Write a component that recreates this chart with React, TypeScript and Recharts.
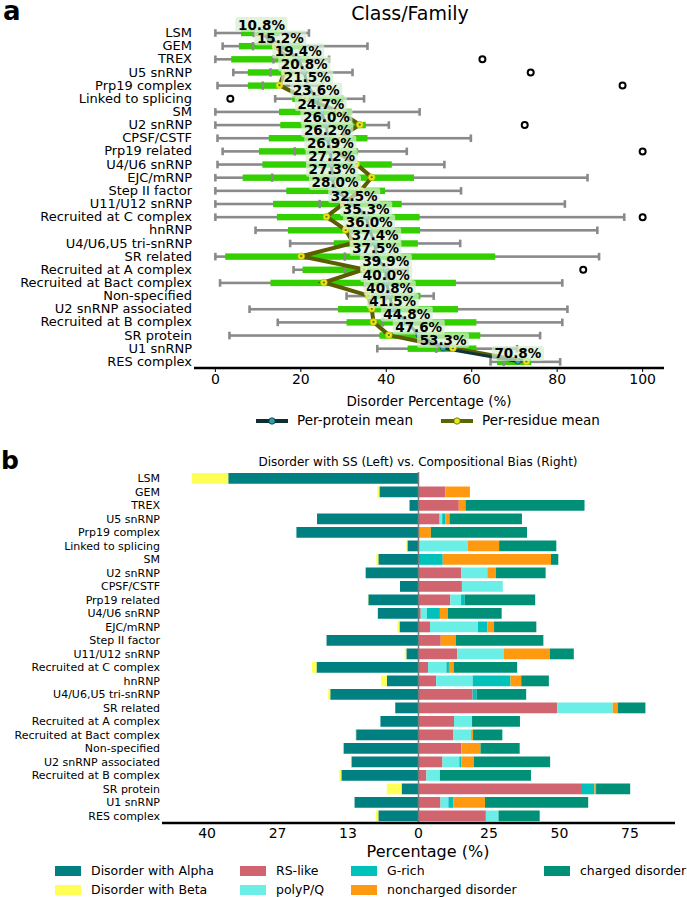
import React from 'react';
import { ComposedChart, Bar, Line, XAxis, YAxis, ReferenceLine } from 'recharts';

const categories = ['LSM','GEM','TREX','U5 snRNP','Prp19 complex','Linked to splicing','SM','U2 snRNP','CPSF/CSTF','Prp19 related','U4/U6 snRNP','EJC/mRNP','Step II factor','U11/U12 snRNP','Recruited at C complex','hnRNP','U4/U6,U5 tri-snRNP','SR related','Recruited at A complex','Recruited at Bact complex','Non-specified','U2 snRNP associated','Recruited at B complex','SR protein','U1 snRNP','RES complex'];

// Panel a: box plot statistics (Disorder %)
const boxMin = [0, 1.7, 0, 4.2, 0.5, 14, 0, 0, 0.5, 1.7, 0.5, 0, 0, 0, 0, 9.4, 17.5, 0, 18.3, 1.1, 30.7, 8.0, 14.6, 3.3, 37.9, 64.4];
const boxQ1 = [6.0, 5.5, 3.7, 7.6, 7.6, 18, 14.9, 15.2, 12.5, 10.2, 11.0, 6.4, 16.6, 13.5, 14.4, 17.0, 27.7, 2.3, 20.4, 12.9, 36, 28.7, 30.7, 38.4, 45.0, 65.9];
const boxMed = [9, 8.8, 13.6, 12.9, 11.1, 24, 22, 24, 25, 18.6, 25, 13.3, 27, 24.4, 26.8, 32, 36, 30.3, 30.3, 35, 40, 40, 39.2, 49, 51.7, 67.5];
const boxQ3 = [15, 20, 22, 18, 14.6, 30, 31.9, 35.2, 35.6, 33.4, 41.3, 46.5, 39.7, 43.6, 47.8, 47.9, 47.4, 65.5, 40, 56.3, 48, 56.8, 61.1, 62.0, 61.1, 73.9];
const boxMax = [21.9, 35.6, 26.6, 32.1, 25, 34.8, 47.8, 40.6, 59.8, 44.8, 53.6, 87.1, 57.5, 81.8, 95.7, 89.4, 57.3, 89.8, 45, 81.2, 51.1, 82.4, 81.2, 76.0, 70.6, 80.7];
const outliers: number[][] = [[], [], [62.5], [73.8], [95.3], [3.5], [], [72.4], [], [100], [], [], [], [], [100], [], [], [], [86.1], [], [], [], [], [], [], []];
const perProteinMean = [10.8, 15.2, 19.4, 20.8, 21.5, 23.6, 24.7, 26.0, 26.2, 26.9, 27.2, 27.3, 28.0, 32.5, 35.3, 36.0, 37.4, 37.5, 39.9, 40.0, 40.8, 41.5, 44.8, 47.6, 53.3, 70.8];
const perResidueMean = [11, 14, 17, 16.2, 15.0, 21, 29, 33.8, 29, 28, 33, 36.6, 34, 30, 26.0, 30.5, 32.3, 20.1, 34.8, 25.4, 35.8, 36.6, 37.0, 40.6, 55.6, 72.8];
const ticksA = [0, 20, 40, 60, 80, 100];

// Panel b: left (disorder with SS) and right (compositional bias), %
const alphaDis = [36.0, 7.4, 1.7, 19.2, 23.1, 2.1, 7.6, 10.0, 3.5, 9.5, 7.7, 3.6, 17.4, 2.3, 19.3, 6.0, 16.7, 4.4, 7.2, 11.8, 14.2, 12.7, 14.6, 3.2, 12.1, 7.6];
const betaDis = [6.9, 0.4, 0, 0, 0, 0.2, 0.4, 0, 0, 0.1, 0.1, 0.4, 0, 0.3, 0.9, 1.1, 0.4, 0, 0, 0.2, 0.1, 0.1, 0.4, 2.8, 0, 0.5];
const rsLike = [0, 9.55, 14.3, 7.5, 0, 0, 0, 15.2, 15.4, 11.3, 0.8, 4.1, 7.9, 13.8, 3.4, 6.25, 19.2, 49.2, 12.6, 12.4, 15.2, 8.5, 2.8, 58.0, 7.8, 23.9];
const polyPQ = [0, 0, 0, 0.9, 0, 17.5, 0, 9.2, 14.5, 3.8, 2.2, 17.0, 0, 16.4, 6.5, 13.0, 0, 19.7, 6.4, 6.25, 0, 6.0, 4.8, 0, 2.8, 4.5];
const gRich = [0, 0, 0, 1.2, 0, 0, 8.6, 0, 0, 1.3, 4.6, 3.3, 0, 0, 0.9, 13.4, 1.4, 0, 0, 0, 0, 0.7, 0, 4.4, 1.8, 0];
const nonCharged = [0, 8.7, 2.4, 1.4, 4.4, 11.1, 38.4, 3.1, 0, 0, 2.8, 2.4, 5.3, 16.4, 1.7, 3.8, 0, 1.8, 0, 0.7, 6.8, 4.4, 0, 0.6, 11.2, 0];
const charged = [0, 0, 42.2, 25.7, 34.1, 20.3, 2.6, 17.6, 0, 25.0, 19.1, 15.0, 31.1, 8.5, 22.5, 9.8, 17.6, 9.8, 17.0, 10.4, 13.9, 27.1, 32.3, 12.1, 36.6, 14.6];
const ticksB = [-75, -50, -25, 0, 25, 50, 75];
const LEFT_SCALE = 75 / 40; // left half drawn on a stretched scale (tick labels 13, 27, 40)

const FONT = '"DejaVu Sans", Verdana, sans-serif';

const rowsA = categories.map((name, i) => ({
  name,
  range: [boxMin[i], boxMax[i]],
  min: boxMin[i], q1: boxQ1[i], med: boxMed[i], q3: boxQ3[i], max: boxMax[i],
  outliers: outliers[i],
  ppm: perProteinMean[i],
  prm: perResidueMean[i],
}));

const rowsB = categories.map((name, i) => ({
  name,
  alpha: -alphaDis[i] * LEFT_SCALE,
  beta: -betaDis[i] * LEFT_SCALE,
  rs: rsLike[i], pq: polyPQ[i], g: gRich[i], nc: nonCharged[i], ch: charged[i],
}));

const BoxShape = (props: any) => {
  const { x, y, width, height, payload } = props;
  const { min, max, q1, q3, med } = payload;
  const px = (v: number) => x + ((v - min) / (max - min)) * width;
  const cy = y + height / 2;
  const gray = '#8a8a8a';
  return (
    <g>
      <rect x={px(min)} y={cy - 1.3} width={px(max) - px(min)} height={2.6} fill={gray} />
      <rect x={px(min) - 1.3} y={cy - 3.8} width={2.6} height={7.6} fill={gray} />
      <rect x={px(max) - 1.3} y={cy - 3.8} width={2.6} height={7.6} fill={gray} />
      <rect x={px(q1)} y={cy - 3.2} width={px(q3) - px(q1)} height={6.4} fill="#33d000" />
      <rect x={px(med) - 1.3} y={cy - 4.2} width={2.6} height={8.4} fill={gray} />
      {payload.outliers.map((o: number, k: number) => (
        <circle key={k} cx={px(o)} cy={cy} r={3} fill="#fff" stroke="#000" strokeWidth={2} />
      ))}
    </g>
  );
};

const ResidueDot = (props: any) => {
  const { cx, cy, index } = props;
  return (
    <g key={`rd-${index}`}>
      <circle cx={cx} cy={cy} r={3.3} fill="#e6e61a" stroke="#c8c800" strokeWidth={0.8} />
      <circle cx={cx} cy={cy} r={1.1} fill="#6b6b00" />
    </g>
  );
};

const ProteinDot = (props: any) => {
  const { cx, cy, index } = props;
  return <circle key={`pd-${index}`} cx={cx} cy={cy} r={2.8} fill="#2e9fb3" stroke="#0d3538" strokeWidth={0.6} />;
};

const LabelDot = (props: any) => {
  const { cx, cy, index, value } = props;
  const w = 52;
  const h = 15;
  const ty = cy - 8;
  return (
    <g key={`lb-${index}`}>
      <rect x={cx - w / 2} y={ty - h / 2} width={w} height={h} rx={2} fill="#d6efd0" fillOpacity={0.72} />
      <text x={cx} y={ty} textAnchor="middle" dominantBaseline="central" fontFamily={FONT} fontWeight="bold" fontSize={13.5} fill="#000">
        {`${Number(value).toFixed(1)}%`}
      </text>
    </g>
  );
};

const makeCatTick = (size: number) => (p: any) => (
  <text x={p.x} y={p.y} textAnchor="end" dominantBaseline="central" fontFamily={FONT} fontSize={size} fill="#000">
    {p.payload.value}
  </text>
);
const CatTickA = makeCatTick(13);
const CatTickB = makeCatTick(11);

const Txt = ({ x, y, size, bold, anchor = 'middle', lh = 1.15, children }: any) => {
  const tx = anchor === 'middle' ? '-50%' : anchor === 'end' ? '-100%' : '0';
  return (
    <div style={{ position: 'absolute', left: x, top: y, transform: `translate(${tx}, -50%)`, fontSize: size, fontWeight: bold ? 'bold' : 'normal', lineHeight: lh, whiteSpace: 'nowrap', fontFamily: FONT, color: '#000' }}>
      {children}
    </div>
  );
};

const LegendLine = ({ x, y, color, dotFill, dotStroke, label }: any) => (
  <>
    <svg style={{ position: 'absolute', left: x, top: y - 6 }} width={32} height={12}>
      <line x1={0} y1={6} x2={32} y2={6} stroke={color} strokeWidth={4} />
      <circle cx={16} cy={6} r={3.2} fill={dotFill} stroke={dotStroke} strokeWidth={0.8} />
    </svg>
    <Txt x={x + 41} y={y} size={13.5} anchor="start">{label}</Txt>
  </>
);

const LegendPatch = ({ x, y, color, label }: any) => (
  <>
    <div style={{ position: 'absolute', left: x, top: y - 5, width: 26, height: 10, background: color }} />
    <Txt x={x + 36} y={y} size={12.5} anchor="start">{label}</Txt>
  </>
);

const fmtB = (v: number) => (v < 0 ? String(Math.round((-v) / LEFT_SCALE)) : String(v));

export default function App() {
  return (
    <div style={{ position: 'absolute', left: 0, top: 0, width: 687, height: 897, background: '#fff', overflow: 'hidden', fontFamily: FONT }}>
      {/* Panel a */}
      <div style={{ position: 'absolute', left: 0, top: 0 }}>
        <ComposedChart width={687} height={400} layout="vertical" data={rowsA} margin={{ top: 26, right: 23, left: 0, bottom: 0 }}>
          <XAxis type="number" domain={[-5, 105]} ticks={ticksA} allowDataOverflow height={32}
            axisLine={{ stroke: '#000', strokeWidth: 2.5 }} tickLine={{ stroke: '#000' }} tickSize={4} tickMargin={2}
            tick={{ fontSize: 14, fill: '#000', fontFamily: FONT }} />
          <YAxis type="category" dataKey="name" width={194} interval={0} axisLine={false} tickLine={false} tickSize={0} tickMargin={2}
            tick={CatTickA} />
          <Bar dataKey="range" barSize={12} shape={BoxShape} isAnimationActive={false} />
          <Line dataKey="prm" stroke="#5c5c00" strokeWidth={4} dot={ResidueDot} activeDot={false} isAnimationActive={false} />
          <Line dataKey="ppm" stroke="#0d3538" strokeWidth={3} dot={ProteinDot} activeDot={false} isAnimationActive={false} />
          <Line dataKey="ppm" stroke="none" dot={LabelDot} activeDot={false} isAnimationActive={false} />
        </ComposedChart>
      </div>
      <Txt x={3} y={11} size={26} bold anchor="start" lh={0.8}>a</Txt>
      <Txt x={410} y={14} size={19}>Class/Family</Txt>
      <Txt x={429} y={402} size={13.5}>Disorder Percentage (%)</Txt>
      <LegendLine x={256} y={421} color="#0b2f33" dotFill="#2e9fb3" dotStroke="#0b2f33" label="Per-protein mean" />
      <LegendLine x={441} y={421} color="#5b6600" dotFill="#e6e61a" dotStroke="#5b6600" label="Per-residue mean" />

      {/* Panel b */}
      <div style={{ position: 'absolute', left: 0, top: 440 }}>
        <ComposedChart width={687} height={407} layout="vertical" data={rowsB} stackOffset="sign" barCategoryGap={0}
          margin={{ top: 32, right: 12, left: 0, bottom: 0 }}>
          <XAxis type="number" domain={[-91, 91]} ticks={ticksB} allowDataOverflow height={24} tickFormatter={fmtB}
            axisLine={{ stroke: '#000', strokeWidth: 2.5 }} tickLine={false} tickSize={3} tickMargin={2}
            tick={{ fontSize: 14, fill: '#000', fontFamily: FONT }} />
          <YAxis type="category" dataKey="name" width={162} interval={0} axisLine={false} tickLine={false} tickSize={0} tickMargin={2}
            tick={CatTickB} />
          <Bar dataKey="alpha" stackId="s" barSize={10.8} fill="#008080" isAnimationActive={false} />
          <Bar dataKey="beta" stackId="s" barSize={10.8} fill="#ffff55" isAnimationActive={false} />
          <Bar dataKey="rs" stackId="s" barSize={10.8} fill="#d0646f" isAnimationActive={false} />
          <Bar dataKey="pq" stackId="s" barSize={10.8} fill="#6aeee5" isAnimationActive={false} />
          <Bar dataKey="g" stackId="s" barSize={10.8} fill="#00c2ba" isAnimationActive={false} />
          <Bar dataKey="nc" stackId="s" barSize={10.8} fill="#ff9a10" isAnimationActive={false} />
          <Bar dataKey="ch" stackId="s" barSize={10.8} fill="#009077" isAnimationActive={false} />
          <ReferenceLine x={0} stroke="#7a7a7a" strokeWidth={1.5} />
        </ComposedChart>
      </div>
      <Txt x={1} y={461} size={25} bold anchor="start">b</Txt>
      <Txt x={418} y={463} size={12}>Disorder with SS (Left) vs. Compositional Bias (Right)</Txt>
      <Txt x={428} y={852} size={16}>Percentage (%)</Txt>
      <LegendPatch x={55} y={871} color="#008080" label="Disorder with Alpha" />
      <LegendPatch x={55} y={890} color="#ffff55" label="Disorder with Beta" />
      <LegendPatch x={240} y={871} color="#d0646f" label="RS-like" />
      <LegendPatch x={240} y={890} color="#6aeee5" label="polyP/Q" />
      <LegendPatch x={351} y={871} color="#00c2ba" label="G-rich" />
      <LegendPatch x={351} y={890} color="#ff9a10" label="noncharged disorder" />
      <LegendPatch x={544} y={871} color="#009077" label="charged disorder" />
    </div>
  );
}
